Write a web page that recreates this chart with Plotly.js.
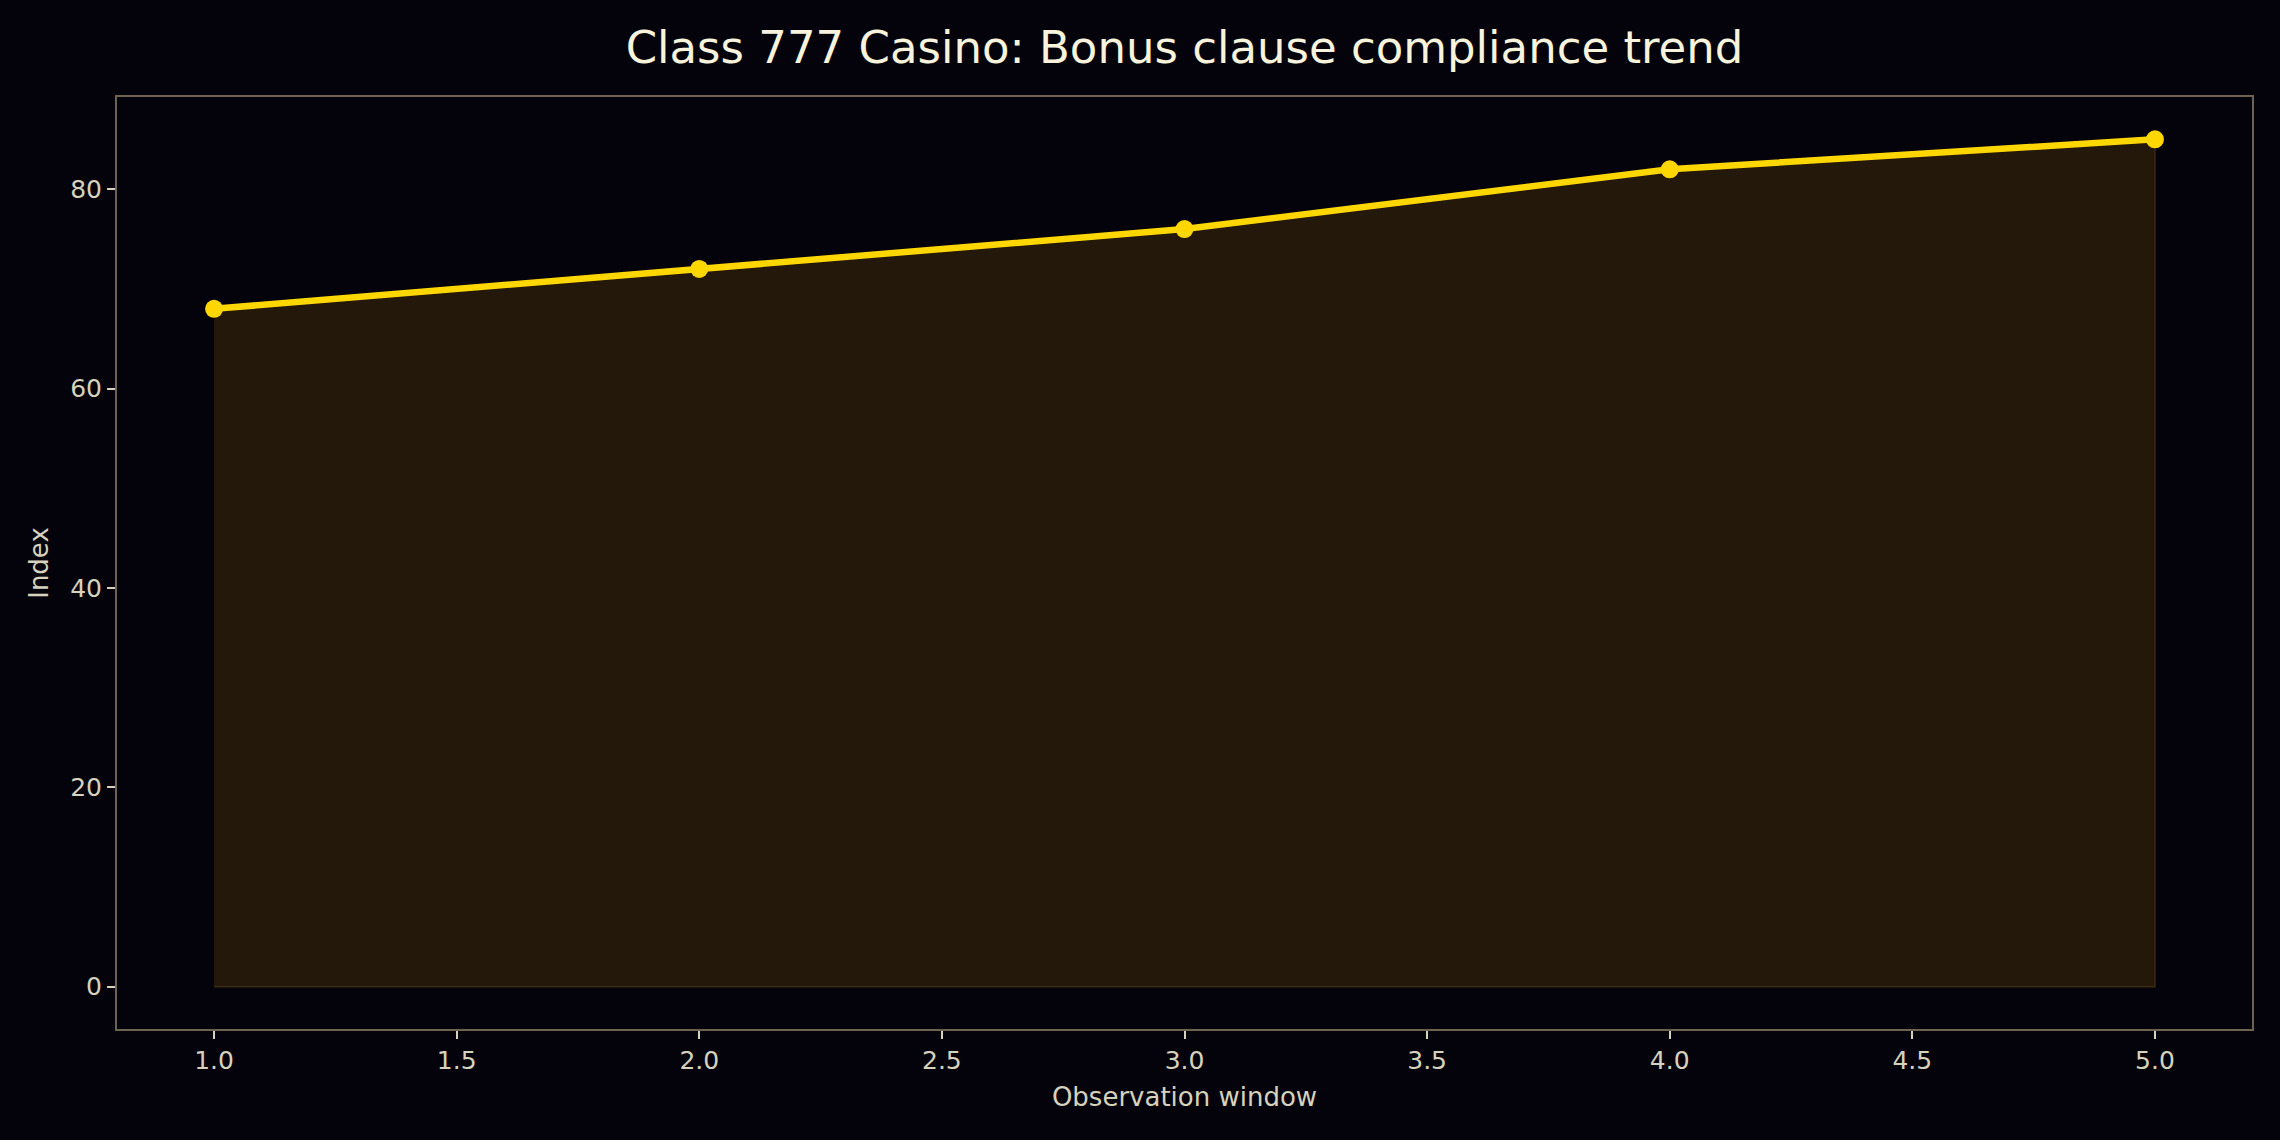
<!DOCTYPE html>
<html>
<head>
<meta charset="utf-8">
<script src="https://cdn.plot.ly/plotly-3.0.1.min.js"></script>
<style>
  html, body { margin: 0; padding: 0; background: #04030b; }
  #chart { width: 2280px; height: 1140px; }
</style>
</head>
<body>
<div id="chart"></div>
<script>
// chart data
var windows = [1, 2, 3, 4, 5];
var indexValues = [68, 72, 76, 82, 85];
var xTicks = [1.0, 1.5, 2.0, 2.5, 3.0, 3.5, 4.0, 4.5, 5.0];
var yTicks = [0, 20, 40, 60, 80];

var bg = '#04030b';
var gold = '#ffd700';
var tickColor = '#d6d2bd';
var spineColor = '#6e6350';

// shaded area under the line, closed down to zero
var areaTrace = {
    type: 'scatter',
    x: windows.concat([windows[windows.length - 1], windows[0]]),
    y: indexValues.concat([0, 0]),
    mode: 'lines',
    fill: 'toself',
    fillcolor: '#23180a',
    line: { color: '#3a2a12', width: 1.5 },
    hoverinfo: 'skip',
    showlegend: false
};

var lineTrace = {
    type: 'scatter',
    x: windows,
    y: indexValues,
    mode: 'lines+markers',
    line: { color: gold, width: 6.5 },
    marker: { color: gold, size: 18 },
    showlegend: false
};

var layout = {
    width: 2280,
    height: 1140,
    paper_bgcolor: bg,
    plot_bgcolor: bg,
    margin: { l: 117, r: 28, t: 97, b: 111 },
    font: { family: 'DejaVu Sans', color: tickColor, size: 25 },
    title: {
        text: 'Class 777 Casino: Bonus clause compliance trend',
        font: { family: 'DejaVu Sans', size: 45, color: '#f7f3dc' },
        x: 0.5,
        xref: 'paper',
        y: 1 - 47 / 1140,
        yanchor: 'middle'
    },
    xaxis: {
        range: [0.8, 5.2],
        tickvals: xTicks,
        ticktext: xTicks.map(function (v) { return v.toFixed(1); }),
        showgrid: false,
        zeroline: false,
        showline: true,
        mirror: true,
        linecolor: spineColor,
        linewidth: 2,
        ticks: 'outside',
        ticklen: 8,
        tickwidth: 2,
        tickcolor: tickColor,
        tickfont: { size: 25, color: tickColor },
        title: { text: 'Observation window', font: { size: 26, color: tickColor }, standoff: 14 }
    },
    yaxis: {
        range: [-4.25, 89.25],
        tickvals: yTicks,
        showgrid: false,
        zeroline: false,
        showline: true,
        mirror: true,
        linecolor: spineColor,
        linewidth: 2,
        ticks: 'outside',
        ticklen: 8,
        tickwidth: 2,
        tickcolor: tickColor,
        tickfont: { size: 25, color: tickColor },
        title: { text: 'Index', font: { size: 26, color: tickColor }, standoff: 14 }
    }
};

Plotly.newPlot('chart', [areaTrace, lineTrace], layout, { staticPlot: true });
</script>
</body>
</html>
